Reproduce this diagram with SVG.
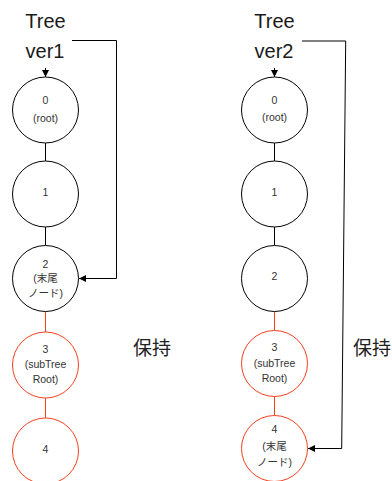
<svg xmlns="http://www.w3.org/2000/svg" width="392" height="481" viewBox="0 0 392 481">
<defs>
<style>
.n{fill:#fff;stroke:#000;stroke-width:1}
.r{fill:#fff;stroke:#f5401e;stroke-width:1}
.e{stroke:#000;stroke-width:1;fill:none}
.er{stroke:#f5401e;stroke-width:1;fill:none}
.a{stroke:#000;stroke-width:1;fill:none;marker-end:url(#ah)}
.t{font-family:"Liberation Sans","Noto Sans CJK JP",sans-serif;font-size:10.5px;fill:#333;text-anchor:middle;dominant-baseline:central}
.h{font-family:"Liberation Sans","Noto Sans CJK JP",sans-serif;font-size:20px;fill:#1a1a1a;text-anchor:middle}
.k{font-family:"Noto Sans CJK JP",sans-serif;font-size:19px;fill:#222;dominant-baseline:central}
</style>
<marker id="ah" markerWidth="8" markerHeight="8" refX="7" refY="3.5" orient="auto" markerUnits="userSpaceOnUse">
<path d="M0,0 L7,3.5 L0,7 Z" fill="#000"/>
</marker>
</defs>
<g id="connectors">
<line class="e" x1="45.5" y1="143" x2="45.5" y2="161"/>
<line class="e" x1="45.5" y1="227" x2="45.5" y2="245.5"/>
<line class="er" x1="45.5" y1="311.5" x2="45.5" y2="332"/>
<line class="er" x1="45.5" y1="398" x2="45.5" y2="418"/>
<line class="e" x1="274.5" y1="143" x2="274.5" y2="161"/>
<line class="e" x1="274.5" y1="227" x2="274.5" y2="245.5"/>
<line class="er" x1="274.5" y1="311.5" x2="274.5" y2="330.5"/>
<line class="er" x1="274.5" y1="396.5" x2="274.5" y2="415.5"/>
<path class="a" d="M45.5,68 V77"/>
<path class="a" d="M274.5,68 V77"/>
<path class="a" d="M72,40.5 H116.5 V278.5 H79"/>
<path class="a" d="M302,41 H345.7 L341.7,448.5 H308"/>
</g>
<g id="title1">
<text class="h" x="45.5" y="28">Tree</text>
<text class="h" x="45" y="58">ver1</text>
</g>
<g id="title2">
<text class="h" x="274.5" y="28">Tree</text>
<text class="h" x="274" y="58">ver2</text>
</g>
<g id="l0"><circle class="n" cx="45.5" cy="110" r="33"/><text class="t" x="45.5" y="99.5">0</text><text class="t" x="45.5" y="117.5">(root)</text></g>
<g id="l1"><circle class="n" cx="45.5" cy="194" r="33"/><text class="t" x="45.5" y="192">1</text></g>
<g id="l2"><circle class="n" cx="45.5" cy="278.5" r="33"/><text class="t" x="45.5" y="264">2</text><text class="t" x="45.5" y="278">(末尾</text><text class="t" x="45.5" y="292.5">ノード)</text></g>
<g id="l3"><circle class="r" cx="45.5" cy="365" r="33"/><text class="t" x="45.5" y="348.5">3</text><text class="t" x="45.5" y="364">(subTree</text><text class="t" x="45.5" y="378.5">Root)</text></g>
<g id="l4"><circle class="r" cx="45.5" cy="451" r="33"/><text class="t" x="45.5" y="448.5">4</text></g>
<g id="r0"><circle class="n" cx="274.5" cy="110" r="33"/><text class="t" x="274.5" y="99.5">0</text><text class="t" x="274.5" y="117">(root)</text></g>
<g id="r1"><circle class="n" cx="274.5" cy="194" r="33"/><text class="t" x="274.5" y="192">1</text></g>
<g id="r2"><circle class="n" cx="274.5" cy="278.5" r="33"/><text class="t" x="274.5" y="276">2</text></g>
<g id="r3"><circle class="r" cx="274.5" cy="363.5" r="33"/><text class="t" x="274.5" y="346.5">3</text><text class="t" x="274.5" y="362.5">(subTree</text><text class="t" x="274.5" y="377.5">Root)</text></g>
<g id="r4"><circle class="r" cx="274.5" cy="448.5" r="33"/><text class="t" x="274.5" y="428.5">4</text><text class="t" x="274.5" y="446">(末尾</text><text class="t" x="274.5" y="461.5">ノード)</text></g>
<g id="keep1"><text class="k" x="133" y="346">保持</text></g>
<g id="keep2"><text class="k" x="353" y="346">保持</text></g>
</svg>
